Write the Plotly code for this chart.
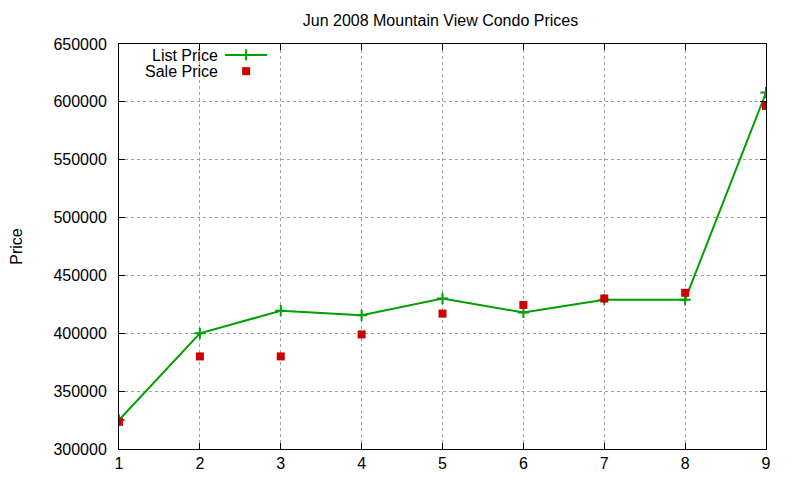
import plotly.graph_objects as go

# data
months = [1, 2, 3, 4, 5, 6, 7, 8, 9]
list_price = [325000, 400000, 419500, 415500, 430000, 418000, 429000, 429000, 608000]
sale_price = [323500, 380000, 380000, 399000, 417000, 424500, 430000, 435000, 596500]

x_ticks = [1, 2, 3, 4, 5, 6, 7, 8, 9]
y_ticks = [300000, 350000, 400000, 450000, 500000, 550000, 600000, 650000]

green = "#00a000"
red = "#cc0000"
font = "Liberation Sans, Arial, sans-serif"

fig = go.Figure()

fig.add_trace(go.Scatter(x=months, y=list_price, mode="lines+markers", name="List Price",
                         line=dict(color=green, width=2),
                         marker=dict(symbol="cross-thin", size=8, line=dict(color=green, width=2))))
fig.add_trace(go.Scatter(x=months, y=sale_price, mode="markers", name="Sale Price",
                         marker=dict(symbol="square", size=8, color=red)))

# gnuplot style key: text on the left, sample on the right (drawn on a hidden 0..1 overlay)
fig.add_trace(go.Scatter(x=[0.164, 0.229], y=[0.973, 0.973], xaxis="x2", yaxis="y2",
                         mode="lines", line=dict(color=green, width=2), hoverinfo="skip"))
fig.add_trace(go.Scatter(x=[0.1965], y=[0.973], xaxis="x2", yaxis="y2", mode="markers",
                         marker=dict(symbol="cross-thin", size=8, line=dict(color=green, width=2)),
                         hoverinfo="skip"))
fig.add_trace(go.Scatter(x=[0.1965], y=[0.933], xaxis="x2", yaxis="y2", mode="markers",
                         marker=dict(symbol="square", size=8, color=red), hoverinfo="skip"))

for label, yy in [("List Price", 0.971), ("Sale Price", 0.931)]:
    fig.add_annotation(x=0.1565, y=yy, xref="paper", yref="paper", text=label,
                       showarrow=False, xanchor="right", yanchor="middle",
                       font=dict(size=16, color="black", family=font))

axis_style = dict(showline=True, linecolor="black", linewidth=1, mirror="ticks",
                  ticks="inside", ticklen=6, tickcolor="black", automargin=False,
                  showgrid=True, gridcolor="#a0a0a0", griddash="dot", gridwidth=1,
                  zeroline=False, tickfont=dict(size=16, color="black", family=font))

# the page puts the figure 8px in from the corner, so margins are trimmed to match
fig.update_layout(
    width=800, height=480,
    margin=dict(l=111, r=42, t=36, b=39, autoexpand=False),
    paper_bgcolor="white", plot_bgcolor="white",
    showlegend=False,
    title=dict(text="Jun 2008 Mountain View Condo Prices", x=0.5406, xanchor="center",
               y=0.975, yanchor="middle", font=dict(size=16, color="black", family=font)),
    xaxis=dict(range=[1, 9], tickvals=x_ticks, ticklabelstandoff=0, **axis_style),
    yaxis=dict(range=[300000, 650000], tickvals=y_ticks, tickformat="d", ticklabelstandoff=8,
               title=dict(text="Price", standoff=29, font=dict(size=16, color="black", family=font)),
               **axis_style),
    xaxis2=dict(range=[0, 1], overlaying="x", visible=False, fixedrange=True),
    yaxis2=dict(range=[0, 1], overlaying="y", visible=False, fixedrange=True),
)

fig.write_html("out.html")
